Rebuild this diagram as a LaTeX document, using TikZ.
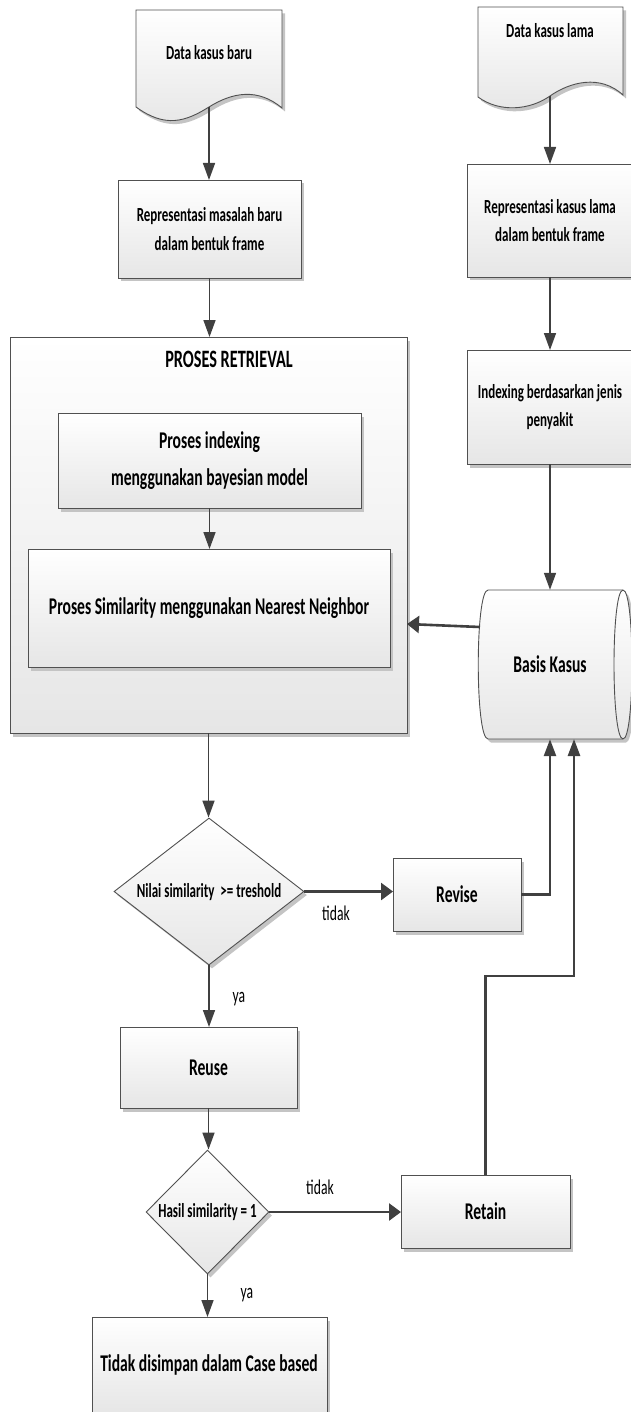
\documentclass[tikz,border=0pt]{standalone}
\usepackage{fontspec}
\setmainfont{Carlito}[FakeStretch=0.65]
\usetikzlibrary{arrows.meta,shapes.geometric,shadows,calc}
\definecolor{lnc}{HTML}{404040}
\definecolor{bdr}{HTML}{505050}
\definecolor{fillb}{HTML}{E6E6E6}
\definecolor{shd}{HTML}{C4C4C4}
\begin{document}
\begin{tikzpicture}[x=1pt,y=-1pt]
\tikzset{
  shp/.style={draw=bdr, line width=0.9pt, top color=white, bottom color=fillb,
    drop shadow={shadow xshift=3pt, shadow yshift=-3.5pt, fill=shd, opacity=1}},
  box/.style={shp, rectangle, inner sep=0pt, outer sep=0pt, align=center, text=black},
  fs/.style={font=\bfseries\fontsize{20}{28.5}\selectfont},
  fl/.style={font=\bfseries\fontsize{24}{37}\selectfont},
  txt/.style={inner sep=0pt, align=center, text=black},
  lbl/.style={inner sep=0pt, font=\fontsize{21}{24}\selectfont, text=black},
  conn/.style={draw=lnc, line width=1.6pt},
  thk/.style={draw=lnc, line width=2.6pt},
  av/.style={-{Triangle[length=17pt,width=12pt]}},
  ah/.style={-{Triangle[length=12pt,width=17pt]}}
}
\clip (0,0) rectangle (631,1412);
\fill[white] (0,0) rectangle (631,1412);

% documents
\path[shp] (136,10) -- (282,10) -- (282,108) .. controls (258,88) and (233,92) .. (209,107)
  .. controls (185,122) and (165,128) .. (136,107) -- cycle;
\node[txt,fs] (doc1) at (209,53) {Data kasus baru};
\coordinate (doc1b) at (209,107);

\path[shp] (478,7) -- (623,7) -- (623,95) .. controls (600,74) and (570,82) .. (550,96)
  .. controls (530,110) and (500,113) .. (478,97) -- cycle;
\node[txt,fs] (doc2) at (550,31) {Data kasus lama};
\coordinate (doc2b) at (550,96);

% left column
\node[box,fs,minimum width=183pt,minimum height=98pt] (rep1) at (209.5,229)
  {Representasi masalah baru\\dalam bentuk frame};
\node[box,minimum width=397pt,minimum height=396pt] (retr) at (208.5,535) {};
\node[txt,font=\bfseries\fontsize{25}{30}\selectfont] (retrt) at (229,359) {PROSES RETRIEVAL};
\node[box,fl,minimum width=303pt,minimum height=95pt] (idx) at (209.5,460.5)
  {Proses indexing\\menggunakan bayesian model};
\node[box,fl,minimum width=362pt,minimum height=118pt] (sim) at (209,608)
  {Proses Similarity menggunakan Nearest Neighbor};

\node[shp,diamond,inner sep=0pt,minimum width=190pt,minimum height=147pt] (d1) at (209,891.5) {};
\node[txt,fs] (d1t) at (209,892) {Nilai similarity\ \ >= treshold};
\node[box,fl,minimum width=128pt,minimum height=73pt] (revise) at (457,894.5) {Revise};

\node[box,fl,minimum width=177pt,minimum height=81pt] (reuse) at (208.5,1067.5) {Reuse};
\node[shp,diamond,inner sep=0pt,minimum width=123pt,minimum height=124pt] (d2) at (207.5,1212) {};
\node[txt,fs] (d2t) at (207.5,1212) {Hasil similarity = 1};
\node[box,fl,minimum width=169pt,minimum height=73pt] (retain) at (485.5,1211.5) {Retain};
\node[box,minimum width=235pt,minimum height=96pt] (final) at (209.5,1365) {};
\node[txt,fl] (finalt) at (209,1365) {Tidak disimpan dalam Case based};

% right column
\node[box,fs,minimum width=166pt,minimum height=113pt] (rep2) at (550,220.5)
  {Representasi kasus lama\\dalam bentuk frame};
\node[box,fs,minimum width=166pt,minimum height=114pt] (idx2) at (550,407)
  {Indexing berdasarkan jenis\\penyakit};

% basis kasus (horizontal cylinder)
\path[shp] (488,590) -- (623,590) .. controls (635,590) and (635,739) .. (623,739)
  -- (488,739) .. controls (475,739) and (475,590) .. (488,590) -- cycle;
\draw[bdr,line width=0.9pt] (623,590) .. controls (611,590) and (611,739) .. (623,739);
\node[txt,fl,minimum width=140pt,minimum height=149pt] (basis) at (550,664.5) {Basis Kasus};
\coordinate (bleft) at (480,627);
\coordinate (retrin) at (407,624);
\coordinate (bb2) at (574,739);
\coordinate (rt1) at (574,976);

% labels
\node[lbl] (l1) at (336,913) {tidak};
\node[lbl] (l2) at (239,999) {ya};
\node[lbl] (l3) at (320,1187) {tidak};
\node[lbl] (l4) at (247,1295) {ya};

% connectors
\draw[conn,av] (doc1b) -- (doc1b |- rep1.north);
\draw[conn,av] (rep1.south) -- (rep1.south |- retr.north);
\draw[conn,av] (idx.south) -- (idx.south |- sim.north);
\draw[conn,av] (retr.south) -- (retr.south |- d1.north);
\draw[conn,av] (d1.south) -- (d1.south |- reuse.north);
\draw[conn,av] (reuse.south) -- (reuse.south |- d2.north);
\draw[conn,av] (d2.south) -- (d2.south |- final.north);
\draw[thk,ah] (d1.east) -- (d1.east -| revise.west);
\draw[thk,ah] (d2.east) -- (d2.east -| retain.west);
\draw[thk,av] (revise.east) -| (basis.south);
\draw[thk,av] (retain.north) |- (rt1) -- (bb2);
\draw[conn,av] (doc2b) -- (doc2b |- rep2.north);
\draw[conn,av] (rep2.south) -- (rep2.south |- idx2.north);
\draw[conn,av] (idx2.south) -- (idx2.south |- basis.north);
\draw[thk,ah] (bleft) -- (retrin);
\end{tikzpicture}
\end{document}
